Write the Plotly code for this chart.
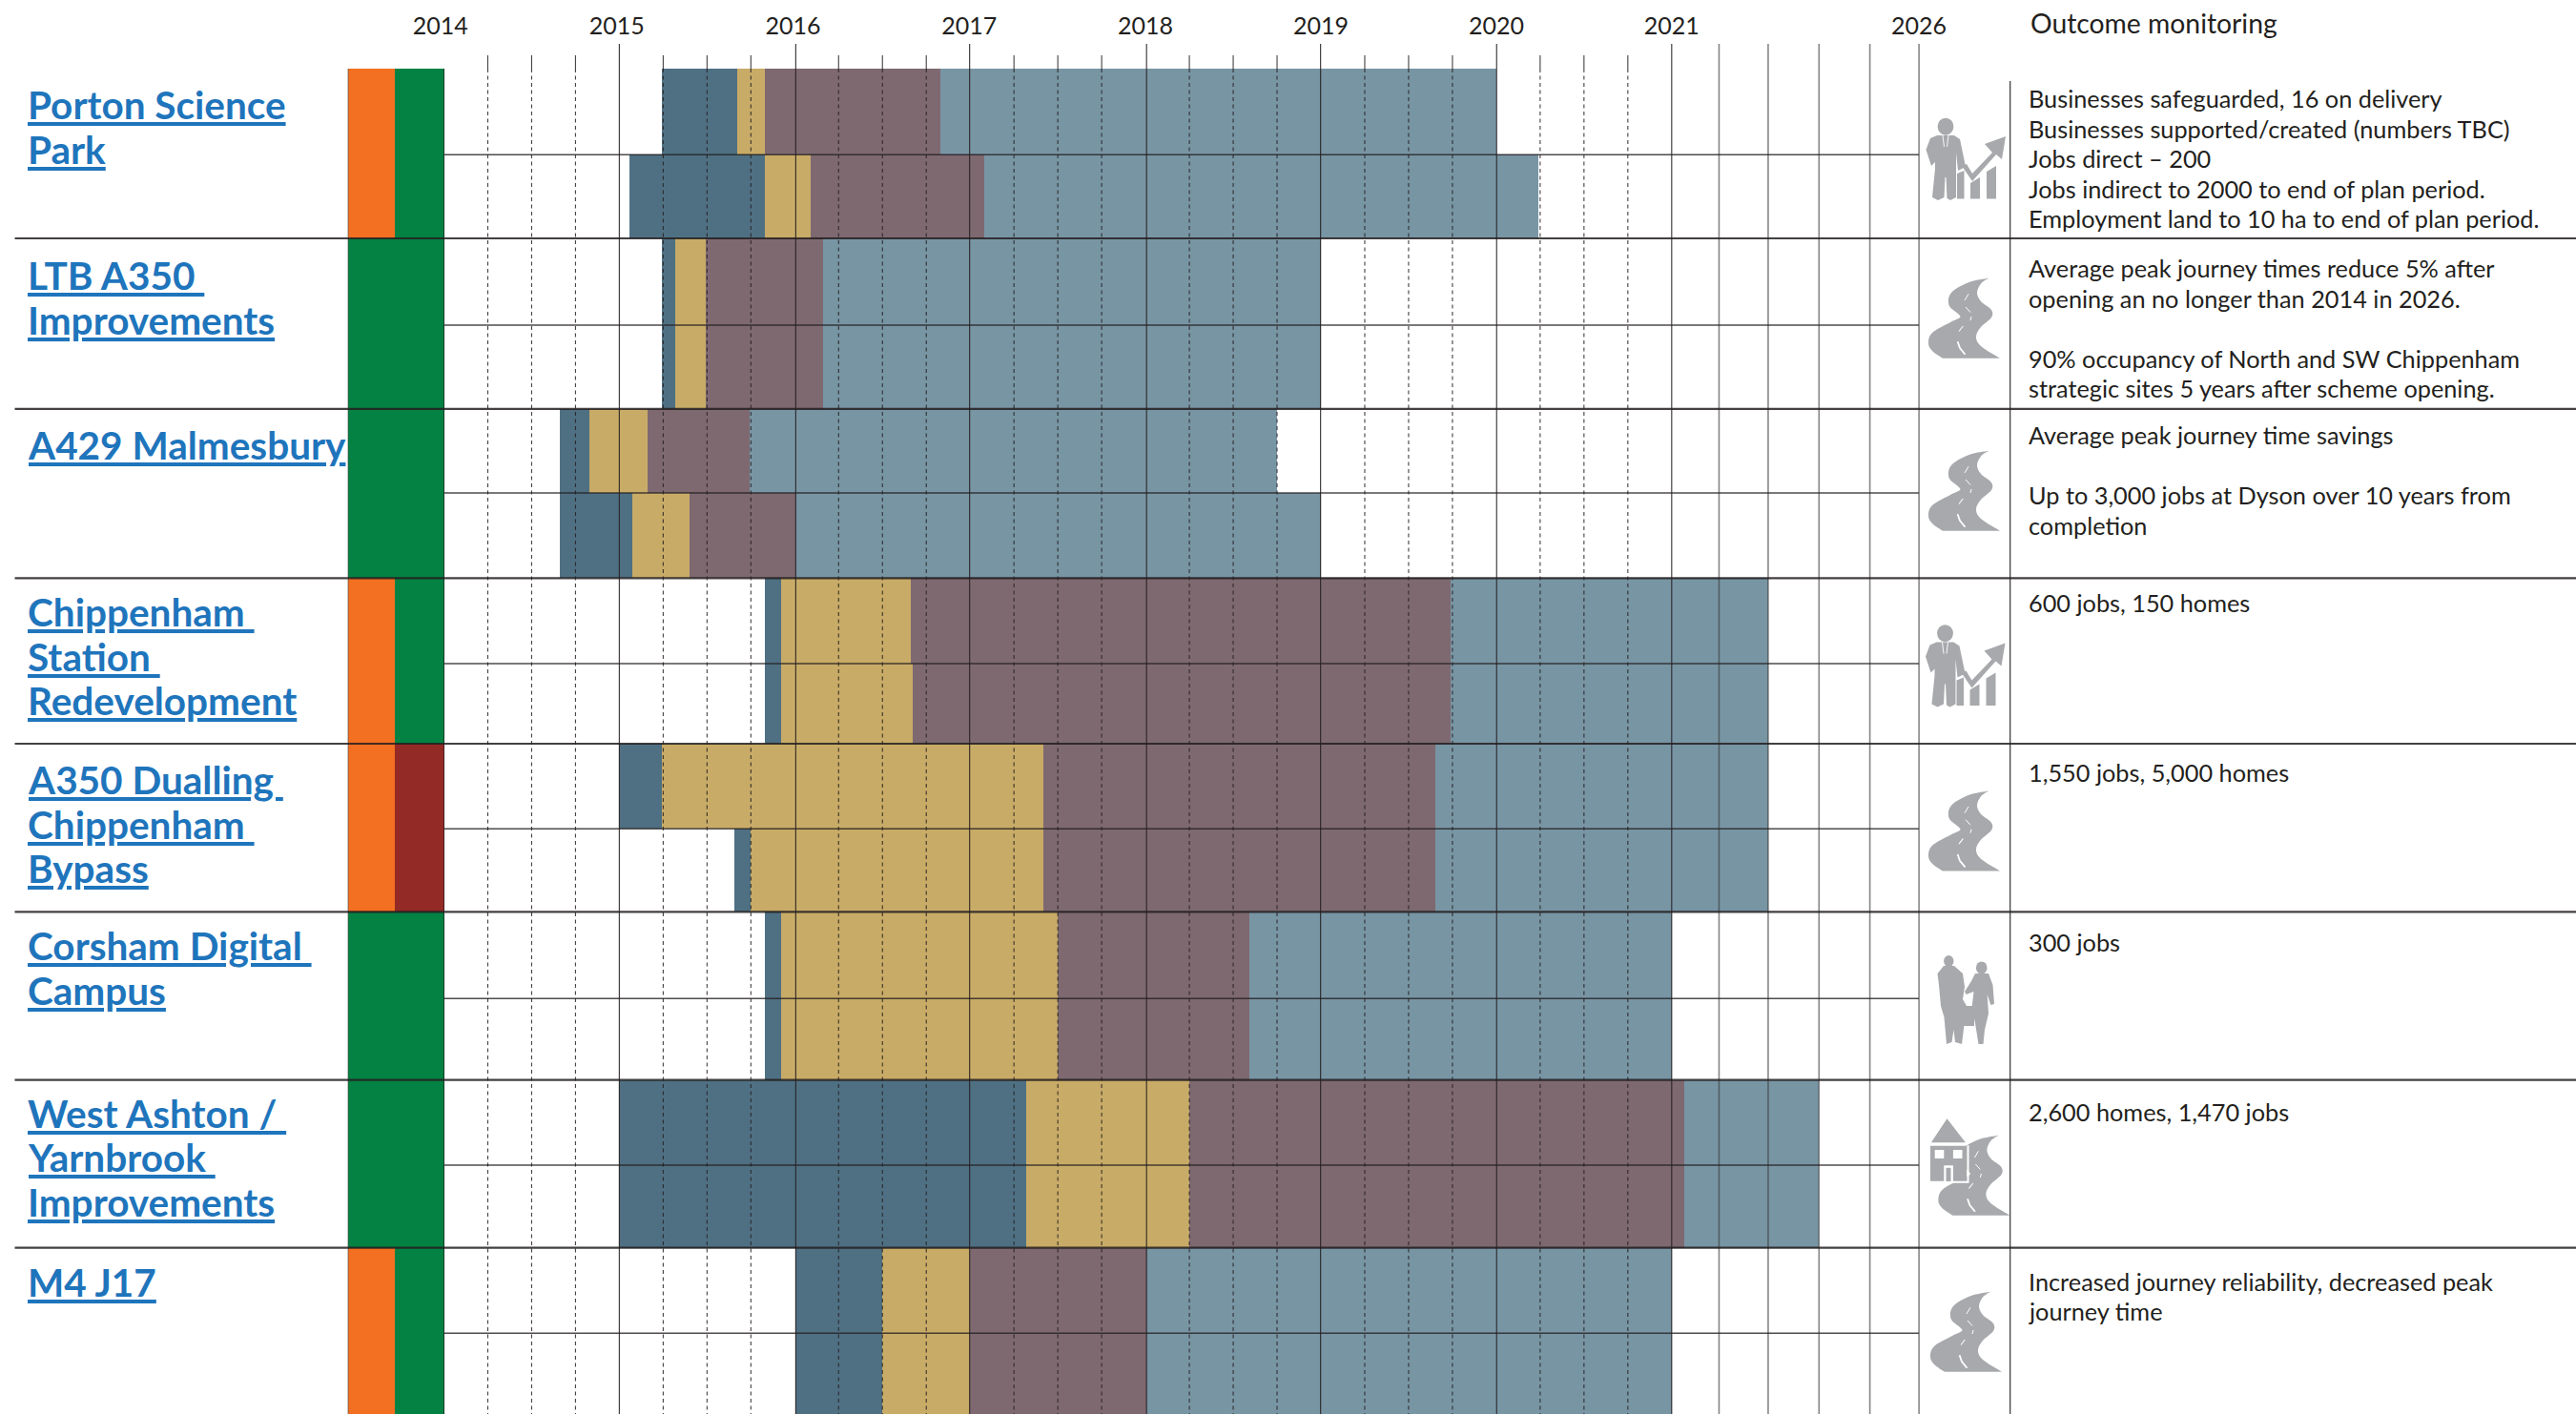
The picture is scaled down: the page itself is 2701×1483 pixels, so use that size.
import plotly.graph_objects as go

# ---------- data ----------
projects = [
    ["Porton Science", "Park"],
    ["LTB A350\u00a0", "Improvements"],
    ["A429 Malmesbury"],
    ["Chippenham\u00a0", "Station\u00a0", "Redevelopment"],
    ["A350 Dualling\u00a0", "Chippenham\u00a0", "Bypass"],
    ["Corsham Digital\u00a0", "Campus"],
    ["West Ashton /\u00a0", "Yarnbrook\u00a0", "Improvements"],
    ["M4 J17"],
]
status_left = ["orange", "green", "green", "orange", "orange", "green", "green", "orange"]
status_right = ["green", "green", "green", "green", "red", "green", "green", "green"]

# Each project has two schedule rows (upper, lower): boundaries in decimal years
phase_start = [2015.24, 2015.06, 2015.24, 2015.24, 2014.66, 2014.66, 2015.83, 2015.83,
               2015.00, 2015.655, 2015.83, 2015.83, 2015.00, 2015.00, 2016.005, 2016.005]
phase_a_end = [2015.67, 2015.83, 2015.32, 2015.32, 2014.83, 2015.075, 2015.92, 2015.92,
               2015.24, 2015.75, 2015.92, 2015.92, 2017.32, 2017.32, 2016.50, 2016.50]
phase_b_end = [2015.83, 2016.09, 2015.49, 2015.49, 2015.16, 2015.40, 2016.66, 2016.67,
               2017.42, 2017.42, 2017.50, 2017.50, 2018.25, 2018.25, 2017.00, 2017.00]
phase_c_end = [2016.83, 2017.08, 2016.16, 2016.16, 2015.745, 2016.005, 2019.74, 2019.74,
               2019.65, 2019.65, 2018.59, 2018.59, 2021.07, 2021.07, 2018.005, 2018.005]
phase_d_end = [2020.00, 2020.24, 2019.00, 2019.00, 2018.75, 2019.00, 2021.55, 2021.55,
               2021.55, 2021.55, 2021.00, 2021.00, 2021.84, 2021.84, 2021.00, 2021.00]

year_lines = [2015, 2016.006, 2016.997, 2018.006, 2018.998, 2020.002, 2021]
tick_years = [2013.98, 2014.985, 2015.99, 2016.995, 2018, 2019, 2020, 2021, 2022.41]
tick_labels = ["2014", "2015", "2016", "2017", "2018", "2019", "2020", "2021", "2026"]
late_lines = [2021.27, 2021.55, 2021.84, 2022.13]

outcomes = [
    ["Businesses safeguarded, 16 on delivery", "Businesses supported/created (numbers TBC)",
     "Jobs direct \u2013 200", "Jobs indirect to 2000 to end of plan period.",
     "Employment land to 10 ha to end of plan period."],
    ["Average peak journey times reduce 5% after", "opening an no longer than 2014 in 2026.", "",
     "90% occupancy of North and SW Chippenham", "strategic sites 5 years after scheme opening."],
    ["Average peak journey time savings", "", "Up to 3,000 jobs at Dyson over 10 years from", "completion"],
    ["600 jobs, 150 homes"],
    ["1,550 jobs, 5,000 homes"],
    ["300 jobs"],
    ["2,600 homes, 1,470 jobs"],
    ["Increased journey reliability, decreased peak", "journey time"],
]
icon_kinds = ["business", "road", "road", "business", "road", "people", "house_road", "road"]

# ---------- layout constants (page pixels) ----------
W, H = 2701, 1483
PX_2015, PX_PER_YEAR = 649.4, 183.9
ROW_EDGES = [72, 250, 428.8, 606.3, 780, 956.4, 1132.7, 1308.7, 1487]
ROW_MIDS = [162.3, 341, 517, 696, 869.3, 1047.3, 1222, 1398.3]
LABEL_Y = [[109, 156], [288, 335], [466], [641, 688, 734], [817, 864, 910], [991, 1038], [1167, 1213, 1260], [1344]]
OUT_Y0 = [103, 281, 456, 632, 810, 988, 1166, 1343.5]
OUT_DY = 31.6
ICON_ORIGIN = [(1990, 110), (2022, 291), (2022, 472), (1989.5, 641.5), (2022, 828.7), (1990, 980), (2032.4, 1190), (2024, 1354)]
STATUS = {"orange": "#F36F21", "green": "#048243", "red": "#942A25"}
PHASE = ["#4F7083", "#C8AB67", "#7E6970", "#7895A4"]
GREY = "#A7A9AC"
BLUE = "#1F75BC"
INK = "#231F20"
TXT_FONT = "Lato"

# sub-row geometry
sub_y, sub_h = [], []
for i, m in enumerate(ROW_MIDS):
    sub_y += [(ROW_EDGES[i] + m) / 2, (m + ROW_EDGES[i + 1]) / 2]
    sub_h += [m - ROW_EDGES[i], ROW_EDGES[i + 1] - m]

fig = go.Figure()

# schedule bars
bounds = [phase_start, phase_a_end, phase_b_end, phase_c_end, phase_d_end]
for k in range(4):
    fig.add_trace(go.Bar(
        orientation="h", y=sub_y, width=sub_h, base=bounds[k],
        x=[b - a for a, b in zip(bounds[k], bounds[k + 1])],
        marker=dict(color=PHASE[k], line=dict(width=0)),
        xaxis="x", yaxis="y", showlegend=False, hoverinfo="skip"))

# status columns
row_y = [(ROW_EDGES[i] + ROW_EDGES[i + 1]) / 2 for i in range(8)]
row_h = [ROW_EDGES[i + 1] - ROW_EDGES[i] for i in range(8)]
fig.add_trace(go.Bar(orientation="h", y=row_y, width=row_h, base=[365] * 8, x=[49.5] * 8,
                     marker=dict(color=[STATUS[s] for s in status_left], line=dict(width=0)),
                     xaxis="x2", yaxis="y", showlegend=False, hoverinfo="skip"))
fig.add_trace(go.Bar(orientation="h", y=row_y, width=row_h, base=[414] * 8, x=[51.5] * 8,
                     marker=dict(color=[STATUS[s] for s in status_right], line=dict(width=0)),
                     xaxis="x2", yaxis="y", showlegend=False, hoverinfo="skip"))


def vlines(xs, y0, y1, color, width, dash="solid", axis="x"):
    px, py = [], []
    for x in xs:
        px += [x, x, None]
        py += [y0, y1, None]
    fig.add_trace(go.Scatter(x=px, y=py, mode="lines", xaxis=axis, yaxis="y",
                             line=dict(color=color, width=width, dash=dash),
                             showlegend=False, hoverinfo="skip"))


def hlines(ys, x0, x1, color, width):
    px, py = [], []
    for y in ys:
        px += [x0, x1, None]
        py += [y, y, None]
    fig.add_trace(go.Scatter(x=px, y=py, mode="lines", xaxis="x2", yaxis="y",
                             line=dict(color=color, width=width),
                             showlegend=False, hoverinfo="skip"))


quarters = [y + q for y in range(2014, 2021) for q in (0.25, 0.5, 0.75)]
vlines(quarters, 72, H, "rgba(35,31,32,0.85)", 1.1, dash="4px,3.5px")
vlines(quarters, 58, 72, "rgba(35,31,32,0.85)", 1.1)
vlines(year_lines, 46, H, "rgba(35,31,32,0.85)", 1.2)
vlines(late_lines + [2022.41], 46, H, "rgba(60,60,60,0.62)", 1.6)
vlines([365], 72, H, "rgba(60,60,60,0.6)", 1, axis="x2")
vlines([465.5], 72, H, "rgba(35,31,32,0.7)", 1, axis="x2")
vlines([2107.7], 85, H, "#333333", 1.2, axis="x2")
hlines(ROW_MIDS, 465.5, 2012, "rgba(35,31,32,0.8)", 1.6)
hlines(ROW_EDGES[1:-1], 15.5, W, "rgba(35,31,32,0.85)", 2.2)

# ---------- text ----------
ann = []
for i, lines in enumerate(projects):
    for txt, y in zip(lines, LABEL_Y[i]):
        ann.append(dict(xref="x2", yref="y", x=27, y=y, text=txt, showarrow=False,
                        xanchor="left", yanchor="middle",
                        font=dict(family=TXT_FONT, size=40.5, color=BLUE, weight=700, lineposition="under")))
for i, lines in enumerate(outcomes):
    for j, txt in enumerate(lines):
        if txt:
            ann.append(dict(xref="x2", yref="y", x=2125, y=OUT_Y0[i] + j * OUT_DY, text=txt, showarrow=False,
                            xanchor="left", yanchor="middle",
                            font=dict(family=TXT_FONT, size=25.3, color=INK)))
ann.append(dict(xref="x2", yref="y", x=2127, y=24, text="Outcome monitoring", showarrow=False,
                xanchor="left", yanchor="middle", font=dict(family=TXT_FONT, size=28.3, color=INK)))


# ---------- icons ----------
def smooth(pts):
    """Catmull-Rom curve through pts, as SVG cubic commands (without the first M)."""
    out = ""
    for i in range(len(pts) - 1):
        p0 = pts[i - 1] if i > 0 else pts[i]
        p1, p2 = pts[i], pts[i + 1]
        p3 = pts[i + 2] if i + 2 < len(pts) else p2
        c1 = (p1[0] + (p2[0] - p0[0]) / 6, p1[1] + (p2[1] - p0[1]) / 6)
        c2 = (p2[0] - (p3[0] - p1[0]) / 6, p2[1] - (p3[1] - p1[1]) / 6)
        out += f" C{c1[0]:.1f},{c1[1]:.1f} {c2[0]:.1f},{c2[1]:.1f} {p2[0]:.1f},{p2[1]:.1f}"
    return out


def at(o, pts, s=1.0):
    return [(o[0] + x * s, o[1] + y * s) for x, y in pts]


def poly(o, pts, s=1.0):
    q = at(o, pts, s)
    return "M" + " L".join(f"{x:.1f},{y:.1f}" for x, y in q) + " Z"


shapes = []


def fill(path, color=GREY):
    shapes.append(dict(type="path", xref="x2", yref="y", path=path, fillcolor=color, line=dict(width=0), layer="above"))


def stroke(o, pts, width=1.6, color="#FFFFFF"):
    q = at(o, pts)
    shapes.append(dict(type="path", xref="x2", yref="y",
                       path="M" + " L".join(f"{x:.1f},{y:.1f}" for x, y in q),
                       line=dict(color=color, width=width), layer="above"))


def circle(o, cx, cy, rx, ry=None):
    ry = ry or rx
    x, y = o[0] + cx, o[1] + cy
    shapes.append(dict(type="circle", xref="x2", yref="y", x0=x - rx, x1=x + rx, y0=y - ry, y1=y + ry,
                       fillcolor=GREY, line=dict(width=0), layer="above"))


def road(o):
    left = [(63, 0.7), (42, 5.2), (24, 16), (21.5, 29), (31, 38), (33, 42), (23, 47), (4, 58), (0, 69), (4, 77), (15, 84.7)]
    right = [(75, 84.7), (55, 72), (50, 62), (55, 52), (66, 42), (66, 34), (55, 25), (51, 16), (55, 6.5), (63, 0.7)]
    a, b = at(o, left), at(o, right)
    p = f"M{a[0][0]:.1f},{a[0][1]:.1f}" + smooth(a) + f" L{b[0][0]:.1f},{b[0][1]:.1f}" + smooth(b) + " Z"
    fill(p)
    stroke(o, [(42, 17.3), (38, 24)], 1.0)
    stroke(o, [(39, 31), (44, 36.5)], 1.0)
    stroke(o, [(45, 41), (44, 45)], 1.0)
    stroke(o, [(36.3, 51), (32, 56.5)], 1.1)
    stroke(o, [(30.6, 67.3), (33, 74), (38.5, 80.7)], 1.8)


def business(o):
    circle(o, 50, 22.7, 8.4, 9)
    body = [(41, 32), (59, 32), (65, 36), (70, 60), (71, 65), (63, 69), (61, 50), (61, 97), (55, 100), (51.5, 98),
            (50.5, 76), (49.5, 76), (48.5, 97), (42, 100), (36, 97), (39, 67), (39, 60), (35, 64), (29.5, 47), (34, 35)]
    fill(poly(o, body))
    stroke(o, [(47, 32), (48.5, 44)], 0.9)
    stroke(o, [(53, 32), (51.5, 44)], 0.9)
    for x0, y0, x1 in [(62, 72, 69.5), (76, 82, 86), (93, 70, 103)]:
        fill(poly(o, [(x0, y0), (x1, y0 - 3 if x0 == 62 else y0 - 6), (x1, 98.5), (x0, 98.5)]))
    fill(poly(o, [(67, 64), (72, 62), (78, 72), (99, 50), (91, 41), (113, 33), (109, 57), (103, 52), (78, 80)]))


def people(o):
    circle(o, 53.3, 28, 5.2, 6)
    man = [(48, 33), (59, 33), (68, 41), (70, 55), (68, 68), (72, 75), (67, 115), (60, 113), (58.5, 100), (56.5, 113), (51, 115),
           (48.5, 87), (45, 75), (43, 53), (41.5, 41)]
    fill(poly(o, man))
    fill(poly(o, [(66, 75), (80, 75), (80, 96), (65, 96)]))
    circle(o, 87.7, 35, 5.8, 6.6)
    woman = [(81, 41), (95, 41), (99.5, 53), (101, 73), (97.3, 74), (93.7, 63), (95, 83), (91, 100), (89.5, 115), (84.5, 115),
             (81, 93), (77.5, 77), (79.5, 60), (71.7, 63), (70, 60), (77, 49)]
    fill(poly(o, woman))


def house_road(o):
    road(o)
    h = (o[0] - 8.4, o[1] - 16.7)  # house anchor
    fill(poly(h, [(17.5, 0), (0.9, 25), (36.9, 25)]))
    fill(poly(h, [(0, 28.4), (38.3, 28.4), (38.3, 65.7), (0, 65.7)]))
    stroke(h, [(0, 66.5), (39.5, 66.5), (39.5, 28)], 2.0)
    fill(poly(h, [(4.7, 32.7), (14.3, 32.7), (14.3, 41.7), (4.7, 41.7)]), "#FFFFFF")
    fill(poly(h, [(23.9, 32.7), (33.5, 32.7), (33.5, 41.7), (23.9, 41.7)]), "#FFFFFF")
    fill(poly(h, [(14.3, 49), (23.9, 49), (23.9, 65.7), (14.3, 65.7)]), "#FFFFFF")
    fill(poly(h, [(16.5, 51.5), (21.5, 51.5), (21.5, 65.7), (16.5, 65.7)]))


draw = {"road": road, "business": business, "people": people, "house_road": house_road}
for kind, origin in zip(icon_kinds, ICON_ORIGIN):
    draw[kind](origin)

# ---------- axes ----------
x_range = [2015 - PX_2015 / PX_PER_YEAR, 2015 + (W - PX_2015) / PX_PER_YEAR]
fig.update_layout(
    width=W, height=H, margin=dict(l=0, r=0, t=0, b=0), autosize=False,
    paper_bgcolor="white", plot_bgcolor="white", barmode="overlay", bargap=0,
    showlegend=False, font=dict(family=TXT_FONT, color=INK),
    annotations=ann, shapes=shapes,
    xaxis=dict(range=x_range, domain=[0, 1], side="top", anchor="free", position=1 - 41 / H,
               tickmode="array", tickvals=tick_years, ticktext=tick_labels, ticks="",
               tickfont=dict(family=TXT_FONT, size=25, color=INK), showgrid=False, zeroline=False, showline=False),
    xaxis2=dict(range=[0, W], domain=[0, 1], overlaying="x", anchor="y", visible=False, showgrid=False, zeroline=False),
    yaxis=dict(range=[H, 0], domain=[0, 1], visible=False, showgrid=False, zeroline=False, fixedrange=True),
)

fig.write_html("out.html", config={"displayModeBar": False},
               post_script="document.body.style.margin='0';document.body.style.overflow='hidden';")
